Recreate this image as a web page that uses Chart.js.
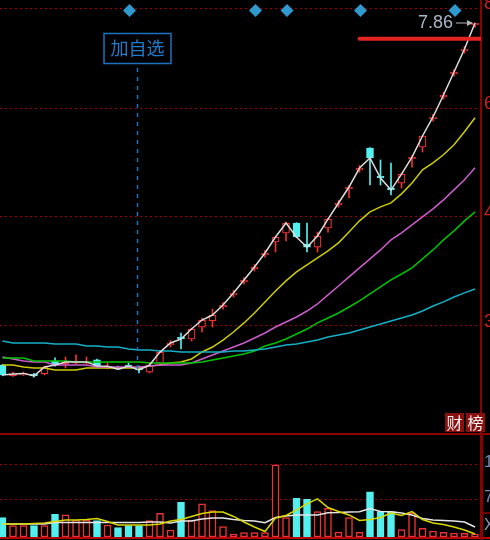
<!DOCTYPE html>
<html>
<head>
<meta charset="utf-8">
<title>K线</title>
<script src="https://cdn.jsdelivr.net/npm/chart.js@4.4.1/dist/chart.umd.min.js"></script>
<style>
  html, body { margin: 0; padding: 0; background: #000; overflow: hidden; }
  .panel { position: relative; width: 490px; }
  #pricePanel { height: 433px; }
  #volPanel { height: 107px; }
</style>
</head>
<body>
<div class="panel" id="pricePanel"><canvas id="priceChart"></canvas></div>
<div class="panel" id="volPanel"><canvas id="volChart"></canvas></div>
<script>
// daily candles, oldest first
const opens  = [2.699, 2.612, 2.617, 2.622, 2.625, 2.734, 2.712, 2.716, 2.716, 2.743, 2.675, 2.683, 2.700, 2.683, 2.641, 2.716, 2.875, 2.946, 2.928, 3.039, 3.098, 3.237, 3.361, 3.500, 3.645, 3.808, 3.965, 4.078, 4.207, 3.940, 3.903, 4.142, 4.452, 4.680, 4.966, 5.318, 4.870, 4.690, 4.767, 5.140, 5.335, 5.825, 6.238, 6.704, 7.204, 7.813];
const highs  = [2.705, 2.640, 2.640, 2.630, 2.690, 2.760, 2.768, 2.786, 2.768, 2.750, 2.720, 2.690, 2.716, 2.690, 2.716, 2.820, 2.915, 2.984, 3.030, 3.126, 3.216, 3.282, 3.408, 3.549, 3.696, 3.862, 4.030, 4.220, 4.212, 4.207, 4.090, 4.270, 4.515, 4.735, 5.036, 5.325, 5.123, 5.074, 4.920, 5.190, 5.530, 5.907, 6.326, 6.798, 7.305, 7.860];
const lows   = [2.610, 2.605, 2.612, 2.600, 2.617, 2.690, 2.675, 2.710, 2.710, 2.688, 2.668, 2.660, 2.680, 2.633, 2.633, 2.700, 2.856, 2.838, 2.910, 2.993, 3.039, 3.215, 3.338, 3.476, 3.620, 3.782, 3.843, 3.977, 4.020, 3.843, 3.843, 4.090, 4.421, 4.549, 4.931, 4.738, 4.738, 4.592, 4.694, 5.011, 5.253, 5.785, 6.195, 6.656, 7.154, 7.760];
const closes = [2.617, 2.625, 2.630, 2.610, 2.683, 2.700, 2.726, 2.726, 2.726, 2.691, 2.690, 2.665, 2.690, 2.658, 2.699, 2.811, 2.892, 2.928, 3.021, 3.107, 3.156, 3.256, 3.381, 3.521, 3.667, 3.831, 4.027, 4.207, 4.027, 3.900, 4.040, 4.260, 4.479, 4.708, 4.996, 5.155, 4.843, 4.664, 4.903, 5.170, 5.522, 5.860, 6.276, 6.744, 7.247, 7.860];

// moving averages (yellow, magenta, green, cyan)
const ma10 = [2.700, 2.700, 2.683, 2.675, 2.675, 2.658, 2.658, 2.658, 2.675, 2.675, 2.675, 2.675, 2.675, 2.675, 2.691, 2.700, 2.717, 2.725, 2.751, 2.812, 2.856, 2.919, 2.993, 3.079, 3.176, 3.288, 3.402, 3.511, 3.611, 3.691, 3.772, 3.856, 3.954, 4.092, 4.236, 4.357, 4.425, 4.481, 4.609, 4.767, 4.968, 5.078, 5.207, 5.372, 5.595, 5.846];
const ma20 = [2.768, 2.751, 2.734, 2.725, 2.725, 2.700, 2.700, 2.700, 2.700, 2.683, 2.683, 2.683, 2.683, 2.683, 2.691, 2.700, 2.700, 2.700, 2.717, 2.751, 2.786, 2.821, 2.856, 2.892, 2.937, 2.984, 3.040, 3.088, 3.137, 3.196, 3.267, 3.361, 3.456, 3.555, 3.657, 3.761, 3.868, 3.991, 4.079, 4.183, 4.289, 4.398, 4.523, 4.667, 4.815, 4.999];
const ma30 = [2.760, 2.760, 2.760, 2.734, 2.734, 2.734, 2.734, 2.725, 2.725, 2.725, 2.725, 2.725, 2.725, 2.725, 2.717, 2.717, 2.717, 2.717, 2.717, 2.725, 2.742, 2.760, 2.777, 2.795, 2.821, 2.865, 2.892, 2.928, 2.974, 3.021, 3.079, 3.127, 3.176, 3.236, 3.298, 3.372, 3.446, 3.522, 3.588, 3.657, 3.761, 3.868, 3.991, 4.105, 4.236, 4.357];
const ma60 = [2.910, 2.892, 2.892, 2.892, 2.892, 2.883, 2.883, 2.883, 2.865, 2.865, 2.856, 2.856, 2.838, 2.830, 2.830, 2.821, 2.821, 2.812, 2.812, 2.812, 2.812, 2.812, 2.821, 2.821, 2.830, 2.838, 2.856, 2.874, 2.883, 2.901, 2.919, 2.946, 2.965, 2.984, 3.012, 3.040, 3.069, 3.098, 3.127, 3.157, 3.196, 3.246, 3.288, 3.339, 3.382, 3.424];

// volume and its averages (yellow = 5, white = 10)
const volumes = [3750, 2200, 2200, 2200, 2200, 4400, 4280, 3300, 3300, 3170, 2330, 1810, 2200, 2200, 3170, 4600, 1360, 6750, 3300, 6420, 5110, 2000, 580, 840, 840, 840, 14000, 3750, 7520, 7330, 4920, 5580, 950, 3750, 910, 8750, 4920, 4920, 1450, 4700, 1690, 1170, 910, 760, 700, 520];
const volMa5  = [2530, 2530, 2530, 2620, 2720, 3010, 3300, 3300, 3400, 3600, 3010, 2330, 2330, 2330, 2330, 2530, 3110, 3400, 3990, 4570, 4860, 4860, 3990, 2920, 1940, 1070, 3690, 4180, 5250, 6420, 7390, 5730, 4960, 4280, 3210, 3400, 3790, 4670, 4180, 4920, 3400, 2720, 2430, 1940, 1360, 580];
const volMa10 = [2530, 2530, 2530, 2530, 2530, 2820, 2820, 2820, 2820, 2820, 2820, 2820, 2820, 2820, 2920, 2920, 2720, 3110, 3110, 3500, 3690, 3690, 3400, 3210, 3110, 2780, 3790, 4080, 4280, 4280, 4280, 4720, 4760, 4860, 4920, 5540, 4960, 4920, 4670, 4280, 3600, 3300, 3210, 3110, 2920, 1940];

// axis ticks and range
const priceTicks = [3.054, 4.290, 6.026, 8.237];
const priceMin = 2.183, priceMax = 8.446;
const volTicks = [7200, 14000];
const volMax = 19800;
const xMin = -0.238, xMax = 45.571;

// markers
const eventDays = [12, 24, 27, 34, 43];
const watchDay = 12.8;
const watchLabel = '加自选';
const targetPrice = 7.48;
const targetSpan = [34, 45.5];
const badges = ['财', '榜'];

const UP = '#f03232', DOWN = '#54f0f0';
const isUp = i => closes[i] >= opens[i];
const pts = vals => vals.map((v, i) => ({ x: i, y: v }));

function maLine(vals, color, order) {
    return { type: 'line', data: pts(vals), borderColor: color, borderWidth: 1.5,
             pointRadius: 0, tension: 0, order: order };
}

const priceDecor = {
    id: 'priceDecor',
    afterDatasetsDraw(chart) {
        const { ctx, chartArea, scales: { x, y } } = chart;
        ctx.save();
        // event diamonds along the top
        ctx.fillStyle = '#2f9ad0';
        eventDays.forEach(d => {
            const px = x.getPixelForValue(d) + 1, py = chartArea.top + 10.5;
            ctx.beginPath();
            ctx.moveTo(px, py - 6.5); ctx.lineTo(px + 6.5, py);
            ctx.lineTo(px, py + 6.5); ctx.lineTo(px - 6.5, py);
            ctx.closePath(); ctx.fill();
        });
        // watch-list marker
        const wx = Math.round(x.getPixelForValue(watchDay)) + 0.5;
        ctx.strokeStyle = '#1a72c0'; ctx.lineWidth = 1.5;
        ctx.setLineDash([4, 5]);
        ctx.beginPath(); ctx.moveTo(wx, chartArea.top + 68); ctx.lineTo(wx, y.getPixelForValue(lows[13])); ctx.stroke();
        ctx.setLineDash([]);
        ctx.strokeRect(wx - 33.5, chartArea.top + 33.5, 67, 30);
        ctx.fillStyle = '#1f7ccc';
        ctx.font = '18px "Noto Sans CJK SC"';
        ctx.textAlign = 'center'; ctx.textBaseline = 'middle';
        ctx.fillText(watchLabel, wx, chartArea.top + 48.5);
        // highest price label
        const hi = highs.indexOf(Math.max(...highs));
        const hx = x.getPixelForValue(hi), hy = y.getPixelForValue(highs[hi]);
        ctx.font = '18px "Liberation Sans", Arial';
        ctx.fillStyle = '#a9b6c8'; ctx.textAlign = 'right';
        ctx.fillText(highs[hi].toFixed(2), hx - 22, hy);
        ctx.strokeStyle = '#b4b4b4'; ctx.lineWidth = 1;
        ctx.beginPath(); ctx.moveTo(hx - 19, hy); ctx.lineTo(hx - 3, hy); ctx.stroke();
        ctx.fillStyle = '#b4b4b4';
        ctx.beginPath(); ctx.moveTo(hx - 2, hy); ctx.lineTo(hx - 8, hy - 3); ctx.lineTo(hx - 8, hy + 3); ctx.closePath(); ctx.fill();
        ctx.restore();
    },
    afterDraw(chart) {
        const { ctx, chartArea } = chart;
        ctx.save();
        ctx.font = '16px "Noto Sans CJK SC"';
        ctx.textAlign = 'center'; ctx.textBaseline = 'middle';
        badges.forEach((t, k) => {
            const bx = chartArea.right - 36 + k * 21, by = chartArea.bottom - 20;
            ctx.fillStyle = '#8a1010';
            ctx.fillRect(bx, by, 19, 19);
            ctx.fillStyle = '#f2f2f2';
            ctx.fillText(t, bx + 9.5, by + 10);
        });
        ctx.restore();
    }
};

const volDecor = {
    id: 'volDecor',
    afterDraw(chart) {
        const { ctx, chartArea, width } = chart;
        ctx.save();
        ctx.strokeStyle = '#8c0000'; ctx.lineWidth = 2;
        ctx.beginPath(); ctx.moveTo(0, 1); ctx.lineTo(width, 1); ctx.stroke();
        ctx.strokeStyle = '#b40000';
        ctx.beginPath(); ctx.moveTo(0, chartArea.bottom + 1); ctx.lineTo(width, chartArea.bottom + 1); ctx.stroke();
        ctx.strokeStyle = '#8c0000';
        ctx.beginPath(); ctx.moveTo(chartArea.right + 1, 0); ctx.lineTo(chartArea.right + 1, chart.height); ctx.stroke();
        ctx.lineWidth = 1.5;
        ctx.beginPath(); ctx.moveTo(chartArea.right, chartArea.bottom - 24); ctx.lineTo(width, chartArea.bottom - 24); ctx.stroke();
        ctx.fillStyle = '#8a9ab4';
        ctx.font = '16px "Liberation Sans", Arial';
        ctx.textAlign = 'left'; ctx.textBaseline = 'middle';
        ctx.fillText('X', chartArea.right + 3, chartArea.bottom - 11);
        ctx.restore();
    }
};

const xs = { type: 'linear', min: xMin, max: xMax, display: false, offset: false };

new Chart(document.getElementById('priceChart'), {
    type: 'bar',
    data: {
        datasets: [
            { type: 'bar', data: closes.map((c, i) => ({ x: i, y: [lows[i], highs[i]] })),
              backgroundColor: ctx => isUp(ctx.dataIndex) ? UP : DOWN,
              barThickness: 1, grouped: false, order: 9 },
            { type: 'bar', data: closes.map((c, i) => ({ x: i, y: [Math.min(opens[i], c), Math.max(opens[i], c)] })),
              backgroundColor: ctx => isUp(ctx.dataIndex) ? '#000' : DOWN,
              borderColor: ctx => isUp(ctx.dataIndex) ? UP : DOWN,
              borderWidth: 1.2, borderSkipped: false,
              barThickness: 7, grouped: false, order: 8 },
            maLine(ma60, '#14b0c8', 6),
            maLine(ma30, '#00c400', 6),
            maLine(ma20, '#cc5ccc', 6),
            maLine(ma10, '#cccc00', 6),
            maLine(closes, '#dcdcdc', 4),
            { type: 'line', data: targetSpan.map(d => ({ x: d, y: targetPrice })),
              borderColor: '#e42222', borderWidth: 4, borderCapStyle: 'round',
              pointRadius: 0, order: 1 }
        ]
    },
    options: {
        responsive: true,
        maintainAspectRatio: false,
        animation: false,
        devicePixelRatio: 1,
        layout: { padding: 0 },
        plugins: { legend: { display: false }, tooltip: { enabled: false } },
        scales: {
            x: xs,
            y: {
                type: 'logarithmic', position: 'right',
                min: priceMin, max: priceMax, bounds: 'data', beginAtZero: false,
                afterBuildTicks: s => { s.ticks = priceTicks.map(v => ({ value: v })); },
                afterFit: s => { s.width = 9; s.paddingTop = 0; s.paddingBottom = 0; },
                grid: { color: '#a00000', lineWidth: 1, drawTicks: false },
                border: { display: true, color: '#8c0000', width: 2, dash: [2, 3] },
                ticks: { color: '#d02020', padding: 3, labelOffset: -4, autoSkip: false,
                         font: { size: 18, family: '"Liberation Sans", Arial' },
                         callback: v => Number(v).toFixed(2) }
            }
        }
    },
    plugins: [priceDecor]
});

new Chart(document.getElementById('volChart'), {
    type: 'bar',
    data: {
        datasets: [
            { type: 'bar', data: pts(volumes),
              backgroundColor: ctx => isUp(ctx.dataIndex) ? '#000' : DOWN,
              borderColor: ctx => isUp(ctx.dataIndex) ? UP : DOWN,
              borderWidth: 1.5, borderSkipped: false,
              barThickness: 7, grouped: false, order: 5 },
            maLine(volMa10, '#e6e6e6', 3),
            maLine(volMa5, '#d8d800', 2)
        ]
    },
    options: {
        responsive: true,
        maintainAspectRatio: false,
        animation: false,
        devicePixelRatio: 1,
        layout: { padding: { top: 2, bottom: 3 } },
        plugins: { legend: { display: false }, tooltip: { enabled: false } },
        scales: {
            x: xs,
            y: {
                type: 'linear', position: 'right', min: 0, max: volMax,
                afterBuildTicks: s => { s.ticks = volTicks.map(v => ({ value: v })); },
                afterFit: s => { s.width = 9; s.paddingTop = 0; s.paddingBottom = 0; },
                grid: { color: '#a00000', lineWidth: 1, drawTicks: false },
                border: { display: true, color: '#8c0000', width: 2, dash: [2, 3] },
                ticks: { color: '#6f8cb4', padding: 3, labelOffset: -3, autoSkip: false,
                         font: { size: 17, family: '"Liberation Sans", Arial' },
                         callback: v => String(v) }
            }
        }
    },
    plugins: [volDecor]
});
</script>
</body>
</html>
